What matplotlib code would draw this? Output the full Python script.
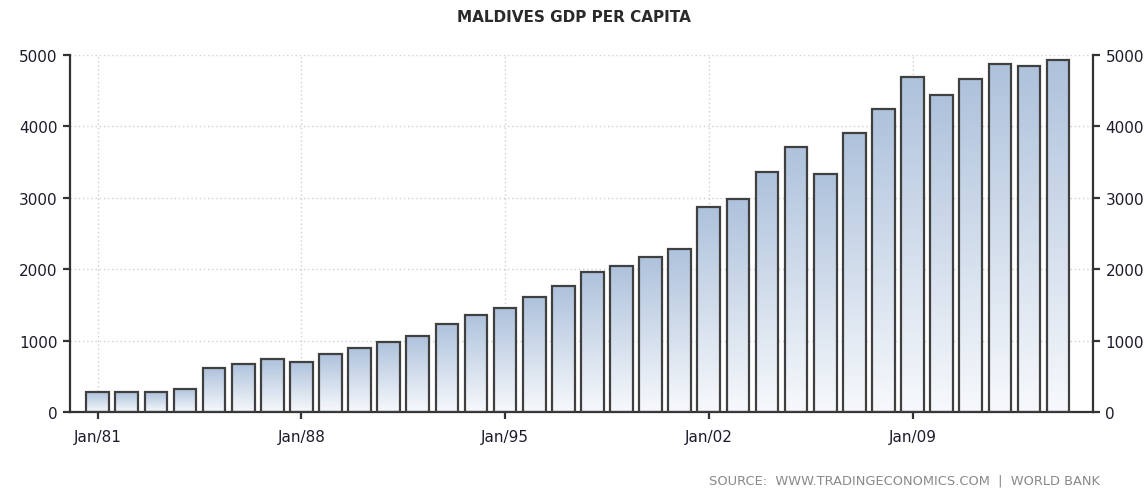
import matplotlib
matplotlib.use('Agg')
import matplotlib.pyplot as plt
import numpy as np
from matplotlib.colors import LinearSegmentedColormap

years = list(range(1981, 2015))
gdp = [276, 276, 276, 323, 613, 677, 742, 696, 806, 894, 986, 1070, 1230,
       1364, 1452, 1606, 1759, 1958, 2046, 2176, 2288, 2868, 2981, 3360,
       3715, 3336, 3911, 4248, 4692, 4444, 4668, 4869, 4846, 4935]
tick_years = [1981, 1988, 1995, 2002, 2009]
tick_labels = ['Jan/81', 'Jan/88', 'Jan/95', 'Jan/02', 'Jan/09']
y_ticks = [0, 1000, 2000, 3000, 4000, 5000]

title = 'MALDIVES GDP PER CAPITA'
source = 'SOURCE:  WWW.TRADINGECONOMICS.COM  |  WORLD BANK'

fig = plt.figure(figsize=(11.48, 4.89), dpi=100)
ax = fig.add_axes([70/1148, 76/489, (1093-70)/1148, (413-56)/489])

cmap = LinearSegmentedColormap.from_list('g', ['#f7f9fc', '#aec2dc'])
grad = np.linspace(0, 1, 256).reshape(-1, 1)
width = 0.78
bars = ax.bar(years, gdp, width=width, facecolor='none', edgecolor='#404040',
              linewidth=1.6, zorder=3)
for b, v in zip(bars, gdp):
    x0 = b.get_x()
    im = ax.imshow(grad, extent=[x0, x0 + width, 0, v], origin='lower',
                   aspect='auto', cmap=cmap, zorder=2)
    im.set_clip_path(b)

ax.set_xlim(1980.05, 2015.2)
ax.set_ylim(0, 5000)
ax.set_xticks(tick_years)
ax.set_xticklabels(tick_labels)
ax.set_yticks(y_ticks)
ax.grid(True, color='#d0d0d0', linestyle=(0, (1, 2)), linewidth=1, zorder=0)
ax.set_axisbelow(True)

for s in ['left', 'bottom', 'right']:
    ax.spines[s].set_color('#333333')
    ax.spines[s].set_linewidth(1.6)
ax.spines['top'].set_visible(False)

ax.tick_params(axis='both', length=5, width=1.6, color='#333333',
               labelsize=11, labelcolor='#1c1c2c', direction='out')
ax.tick_params(axis='y', labelleft=True, labelright=True, left=True, right=True, pad=4)
ax.tick_params(axis='x', pad=7)

fig.text(0.5, 1 - 18/489, title, ha='center', va='center', fontsize=11,
         fontweight='bold', color='#2a2a2a', family='DejaVu Sans Condensed')
fig.text(1100/1148, 1 - 481/489, source, ha='right', va='center', fontsize=9.4,
         color='#8a8a8a')

fig.savefig('out.png', dpi=100)
